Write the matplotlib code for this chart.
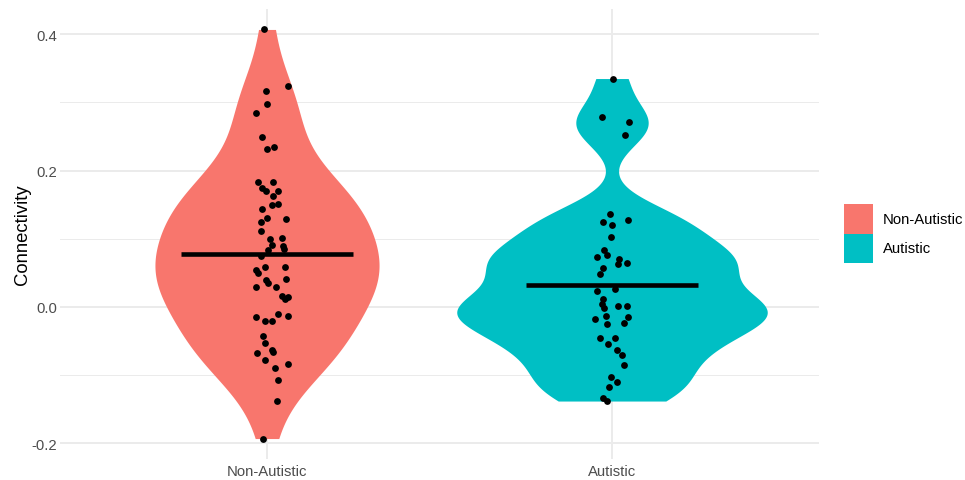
import numpy as np
import matplotlib
matplotlib.use("Agg")
import matplotlib.pyplot as plt
from matplotlib.patches import Patch
from matplotlib.ticker import FormatStrFormatter

plt.rcParams['font.family'] = ['Liberation Sans', 'DejaVu Sans']
plt.rcParams['axes.unicode_minus'] = False

# ---------------- data ----------------
groups = ["Non-Autistic", "Autistic"]
group_colors = ["#F8766D", "#00BFC4"]

non_autistic = [0.407, 0.324, 0.316, 0.297, 0.284, 0.249, 0.232, 0.234,
                0.183, 0.183, 0.175, 0.170, 0.170, 0.162, 0.150, 0.151,
                0.143, 0.129, 0.130, 0.124, 0.112, 0.100, 0.101, 0.091,
                0.090, 0.084, 0.085, 0.075, 0.054, 0.058, 0.058, 0.050,
                0.041, 0.039, 0.035, 0.030, 0.030, 0.016, 0.014, 0.011,
                -0.010, -0.013, -0.014, -0.020, -0.020, -0.043, -0.053,
                -0.063, -0.066, -0.067, -0.078, -0.084, -0.089, -0.107,
                -0.138, -0.193]
non_autistic_jitter = [-0.008, 0.062, -0.004, 0.001, -0.031, -0.014, -0.001, 0.021,
                       -0.025, 0.018, -0.014, -0.004, 0.031, 0.018, 0.014, 0.031,
                       -0.014, 0.054, -0.001, -0.017, -0.017, 0.009, 0.044, 0.015,
                       0.047, 0.004, 0.050, -0.017, -0.033, -0.006, 0.052, -0.027,
                       0.054, -0.004, 0.003, -0.033, 0.025, 0.043, 0.060, 0.052,
                       0.033, 0.060, -0.033, -0.006, 0.015, -0.011, -0.006,
                       0.015, 0.018, -0.030, -0.006, 0.062, 0.023, 0.033,
                       0.028, -0.011]

autistic = [0.335, 0.279, 0.271, 0.252, 0.137, 0.128, 0.124, 0.120,
            0.103, 0.084, 0.076, 0.073, 0.070, 0.064, 0.063, 0.057,
            0.049, 0.026, 0.023, 0.011, 0.005, 0.001, 0.001, -0.002,
            -0.013, -0.014, -0.017, -0.023, -0.025, -0.045, -0.045, -0.054,
            -0.063, -0.071, -0.085, -0.103, -0.110, -0.118, -0.133, -0.138]
autistic_jitter = [0.002, -0.028, 0.049, 0.039, -0.006, 0.047, -0.025, -0.001,
                   -0.004, -0.023, -0.014, -0.044, 0.021, 0.044, 0.018, -0.025,
                   -0.035, 0.009, -0.044, -0.025, -0.029, 0.018, 0.043, -0.023,
                   -0.017, 0.047, -0.049, 0.035, -0.014, -0.035, 0.009, -0.011,
                   0.015, 0.028, 0.035, -0.004, 0.015, -0.008, -0.027, -0.015]

values = [non_autistic, autistic]
jitters = [non_autistic_jitter, autistic_jitter]

bw_adjust = [1.0, 0.75]


# ---------------- violin density (ggplot-like: nrd0, trimmed, scale="area") ----------------
def kde_trimmed(vals, adjust=1.0, n_grid=512):
    x = np.asarray(vals, dtype=float)
    n = len(x)
    sd = x.std(ddof=1)
    q75, q25 = np.percentile(x, [75, 25])
    bw = adjust * 0.9 * min(sd, (q75 - q25) / 1.34) * n ** -0.2
    grid = np.linspace(x.min(), x.max(), n_grid)
    d = np.exp(-0.5 * ((grid[:, None] - x[None, :]) / bw) ** 2).sum(axis=1)
    d /= n * bw * np.sqrt(2 * np.pi)
    return grid, d


dens = [kde_trimmed(v, a) for v, a in zip(values, bw_adjust)]
dmax = max(d.max() for _, d in dens)

fig = plt.figure(figsize=(9.65, 4.81), dpi=100)
ax = fig.add_axes([60 / 965, 1 - 460 / 481, 759 / 965, 450 / 481])

positions = [1, 2]
for pos, (grid, d), col in zip(positions, dens, group_colors):
    hw = 0.45 * d / dmax
    ax.fill_betweenx(grid, pos - hw, pos + hw, color=col, linewidth=0, zorder=2)

for pos, v, j in zip(positions, values, jitters):
    ax.scatter(pos + np.asarray(j), v, s=24, color='black', linewidths=0, zorder=3)
    m = float(np.mean(v))
    ax.plot([pos - 0.25, pos + 0.25], [m, m], color='black', lw=3.3,
            solid_capstyle='butt', zorder=4)

# axes ranges like ggplot (discrete expand 0.6, continuous 5%)
allv = np.concatenate([np.asarray(v) for v in values])
lo, hi = allv.min(), allv.max()
pad = 0.05 * (hi - lo)
ax.set_ylim(lo - pad, hi + pad)
ax.set_xlim(0.4, 2.6)

ax.set_xticks(positions)
ax.set_xticklabels(groups)
ax.set_yticks([-0.2, 0.0, 0.2, 0.4])
ax.set_yticks([-0.1, 0.1, 0.3], minor=True)
ax.yaxis.set_major_formatter(FormatStrFormatter('%.1f'))

ax.set_axisbelow(True)
ax.grid(which='major', color='#EBEBEB', linewidth=1.4)
ax.grid(which='minor', axis='y', color='#EBEBEB', linewidth=0.7)
for s in ax.spines.values():
    s.set_visible(False)
ax.tick_params(axis='both', which='both', length=0, labelsize=10.7, colors='#4D4D4D')
ax.tick_params(axis='x', pad=3.6)
ax.tick_params(axis='y', pad=2.2)

ax.set_ylabel('Connectivity', fontsize=13.3, color='black')
ax.yaxis.set_label_coords((31 - 60) / 759, 0.5)

handles = [Patch(facecolor=c, edgecolor='none', label=g) for g, c in zip(groups, group_colors)]
fig.legend(handles=handles, loc='center left',
           bbox_to_anchor=(844 / 965, 1 - 234.5 / 481), bbox_transform=fig.transFigure,
           frameon=False, fontsize=10.7, handlelength=1.95, handleheight=2.628,
           handletextpad=0.67, labelspacing=0.0, borderpad=0.0, borderaxespad=0.0)

fig.savefig('out.png', dpi=100)
